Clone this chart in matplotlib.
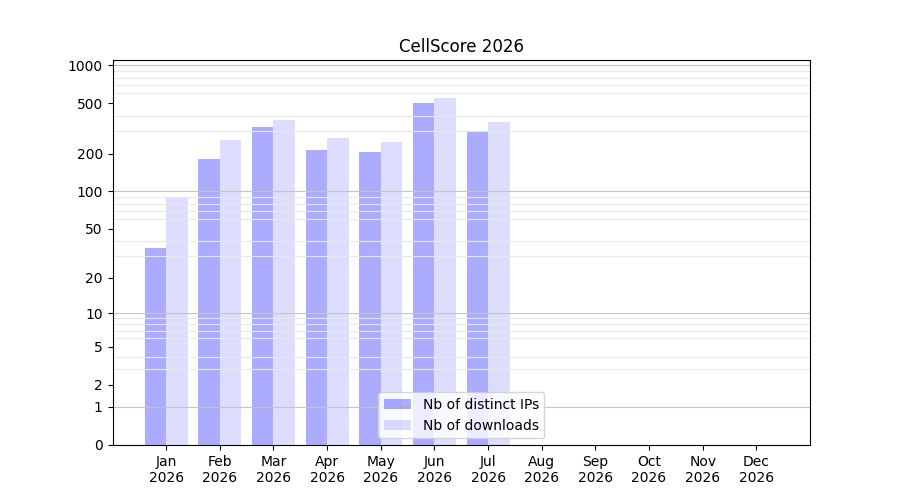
import numpy as np
import matplotlib
matplotlib.use("Agg")
import matplotlib.pyplot as plt
from matplotlib.ticker import FixedLocator

months = ["Jan", "Feb", "Mar", "Apr", "May", "Jun",
          "Jul", "Aug", "Sep", "Oct", "Nov", "Dec"]
year = "2026"
distinct_ips = [35, 181, 325, 213, 205, 503, 302]
downloads = [88, 256, 369, 266, 248, 551, 356]

yticks = [0, 1, 2, 5, 10, 20, 50, 100, 200, 500, 1000]


def fwd(v):
    return np.log10(1 + np.asarray(v, dtype=float))


def inv(v):
    return 10 ** np.asarray(v, dtype=float) - 1


fig, ax = plt.subplots(figsize=(9, 5), dpi=100)
ax.set_yscale("function", functions=(fwd, inv))

x = np.arange(len(distinct_ips))
w = 0.4
ax.bar(x - w / 2, distinct_ips, width=w, color="blue", alpha=0.33,
       label="Nb of distinct IPs")
ax.bar(x + w / 2, downloads, width=w, color="blue", alpha=0.133,
       label="Nb of downloads")

ax.set_xlim(-1, 12)
ax.set_xticks(np.arange(len(months)))
ax.set_xticklabels([m + "\n" + year for m in months])

ax.set_ylim(0, 2 * max(downloads))
ax.yaxis.set_major_locator(FixedLocator(yticks))
ax.set_yticklabels([str(t) for t in yticks])

# light grid at 2..9 of every decade, darker at decades
minor = [m * 10 ** d for d in range(0, 4) for m in range(2, 10)]
ax.yaxis.set_minor_locator(FixedLocator(minor))
ax.tick_params(axis="y", which="minor", length=0)
ax.grid(axis="y", which="minor", color="#e8e8e8", linewidth=0.8)
for d in [1, 10, 100, 1000]:
    ax.axhline(d, color="#c4c4c4", linewidth=0.8, zorder=1.5)

ax.set_title("CellScore 2026")
ax.legend(loc="lower center")

fig.savefig("out.png")
